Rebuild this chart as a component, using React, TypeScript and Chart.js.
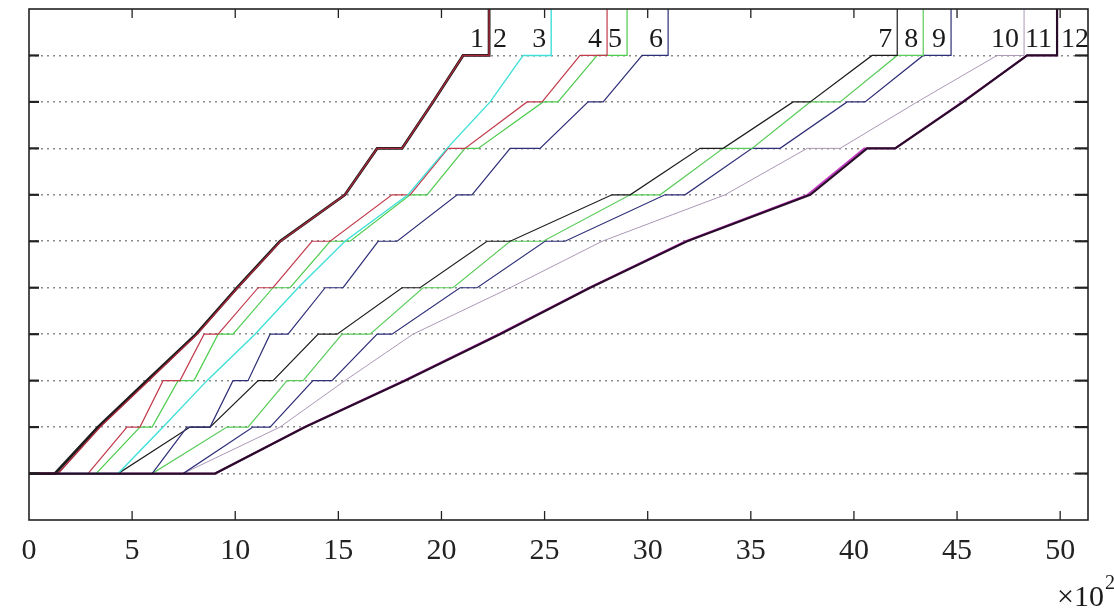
import { useEffect, useRef } from "react";
import { Chart, registerables } from "chart.js";

Chart.register(...registerables);

// Stations (y levels) and x ticks (time, ×10^2)
const stations = [0, 1, 2, 3, 4, 5, 6, 7, 8, 9];
const xTickValues = [0, 5, 10, 15, 20, 25, 30, 35, 40, 45, 50];
const trainLabels = ["1", "2", "3", "4", "5", "6", "7", "8", "9", "10", "11", "12"];
const xMin = 0;
const xMax = 51.35;
const yMin = -1;
const yMax = 10;

// arrival / departure time at each station (×10^2)
const arrive1 = [0, 3.35, 5.72, 8.1, 10.09, 12.17, 15.32, 16.88, 19.59, 21.05];
const depart1 = [1.26, 3.35, 5.72, 8.1, 10.09, 12.17, 15.32, 18.09, 19.59, 22.31];
const arrive2 = [0, 3.45, 5.8, 8.15, 10.12, 12.2, 15.32, 16.88, 19.59, 21.05];
const depart2 = [1.41, 3.45, 5.8, 8.15, 10.12, 12.2, 15.32, 18.09, 19.59, 22.31];
const arrive3 = [0, 6.5, 8.63, 10.96, 13.05, 15.32, 18.38, 20.27, 22.36, 23.96];
const depart3 = [4.32, 6.5, 8.63, 10.96, 13.05, 15.32, 18.38, 20.27, 22.36, 25.32];
const arrive4 = [0, 4.75, 6.5, 8.49, 11.11, 13.72, 17.6, 20.32, 24.15, 26.72];
const depart4 = [2.86, 5.38, 7.32, 9.17, 11.83, 14.6, 18.48, 21.14, 24.88, 28.03];
const arrive5 = [0, 5.38, 7.23, 9.17, 11.83, 14.6, 18.48, 21.14, 24.93, 27.55];
const depart5 = [3.25, 5.97, 8.0, 9.89, 12.66, 15.57, 19.3, 21.78, 25.65, 29.0];
const arrive6 = [0, 7.66, 9.89, 11.69, 14.36, 16.93, 20.76, 23.33, 27.11, 29.73];
const depart6 = [5.97, 8.78, 10.62, 12.56, 15.23, 17.85, 21.48, 24.78, 27.84, 30.99];
const arrive7 = [0, 7.81, 11.11, 14.02, 18.09, 22.21, 28.27, 32.54, 37.05, 40.88];
const depart7 = [4.32, 8.78, 11.83, 14.94, 18.96, 23.33, 29.15, 33.66, 37.88, 42.1];
const arrive8 = [0, 9.6, 12.51, 15.18, 19.11, 23.33, 29.15, 33.66, 37.88, 42.1];
const depart8 = [5.97, 10.62, 13.29, 16.54, 20.56, 24.93, 30.6, 35.06, 39.33, 43.36];
const arrive9 = [0, 10.86, 13.77, 16.88, 20.9, 25.02, 30.84, 35.06, 39.67, 43.36];
const depart9 = [7.47, 11.69, 14.69, 17.6, 21.73, 25.99, 31.81, 36.42, 40.54, 44.71];
const arrive10 = [0, 12.17, 15.32, 18.62, 23.33, 27.79, 33.75, 37.73, 43.07, 46.94];
const depart10 = [7.47, 12.17, 15.32, 18.62, 23.33, 27.79, 33.75, 39.33, 43.07, 48.25];
const arrive11 = [0, 13.35, 18.18, 22.78, 27.15, 31.82, 37.75, 40.5, 45.25, 48.4];
const depart11 = [9.02, 13.35, 18.18, 22.78, 27.15, 31.82, 37.75, 42.0, 45.25, 49.85];
const arrive12 = [0, 13.39, 18.23, 22.84, 27.21, 31.91, 37.88, 40.64, 45.3, 48.4];
const depart12 = [9.02, 13.39, 18.23, 22.84, 27.21, 31.91, 37.88, 42.0, 45.3, 49.85];

const arrivals = [arrive1, arrive2, arrive3, arrive4, arrive5, arrive6, arrive7, arrive8, arrive9, arrive10, arrive11, arrive12];
const departures = [depart1, depart2, depart3, depart4, depart5, depart6, depart7, depart8, depart9, depart10, depart11, depart12];

const lineColors = [
  "#1c1c1c", "#a8283a", "#3fe0d8", "#c23b4b", "#4ccc4c", "#2e2e78",
  "#1c1c1c", "#5acc5a", "#2e2e78", "#ab98b6", "#c639c6", "#2a0c2a",
];
const lineWidths = [2.8, 1.4, 1.4, 1.2, 1.2, 1.2, 1.2, 1.2, 1.2, 1.0, 1.8, 2.2];
const drawOrder = [0, -0.5, 2, 3, 4, 5, 6, 7, 8, 9, 10, -1];

function pathPoints(arr: number[], dep: number[]) {
  const pts: { x: number; y: number }[] = [];
  stations.forEach((s, i) => {
    pts.push({ x: arr[i], y: s });
    pts.push({ x: dep[i], y: s });
  });
  pts.push({ x: dep[dep.length - 1], y: yMax });
  return pts;
}

const SERIF = '"Liberation Serif", "DejaVu Serif", serif';

export default function App() {
  const ref = useRef<HTMLCanvasElement>(null);
  useEffect(() => {
    if (!ref.current) return;
    const overlay = {
      id: "overlay",
      afterDraw(chart: any) {
        const { ctx, chartArea: ca } = chart;
        const x = chart.scales.x;
        const y = chart.scales.y;
        const line = (x1: number, y1: number, x2: number, y2: number) => {
          ctx.beginPath();
          ctx.moveTo(x1, y1);
          ctx.lineTo(x2, y2);
          ctx.stroke();
        };
        ctx.save();
        ctx.strokeStyle = "#222";
        ctx.lineWidth = 1.6;
        ctx.strokeRect(ca.left, ca.top, ca.right - ca.left, ca.bottom - ca.top);
        ctx.lineWidth = 1.3;
        xTickValues.forEach((v) => {
          if (v === xMin) return;
          const px = x.getPixelForValue(v);
          line(px, ca.bottom, px, ca.bottom - 9);
          line(px, ca.top, px, ca.top + 9);
        });
        ctx.lineWidth = 2.2;
        stations.forEach((v) => {
          const py = y.getPixelForValue(v);
          line(ca.left, py, ca.left + 10, py);
          line(ca.right - 13, py, ca.right, py);
        });
        ctx.fillStyle = "#1a1a1a";
        ctx.font = `28px ${SERIF}`;
        ctx.textBaseline = "alphabetic";
        const yBase = y.getPixelForValue(stations[stations.length - 1]) - 8;
        departures.forEach((dep, i) => {
          const end = dep[dep.length - 1];
          const px = x.getPixelForValue(end);
          const prev = i > 0 ? departures[i - 1][departures[i - 1].length - 1] : null;
          const shared = prev === end;
          ctx.textAlign = shared ? "left" : "right";
          ctx.fillText(trainLabels[i], shared ? px + 4 : px - 5, yBase);
        });
        ctx.textAlign = "right";
        ctx.font = `30px ${SERIF}`;
        ctx.fillText("×10", ca.right + 16, 606);
        ctx.textAlign = "left";
        ctx.font = `20px ${SERIF}`;
        ctx.fillText("2", ca.right + 17, 589);
        ctx.restore();
      },
    };
    const chart = new Chart(ref.current, {
      type: "scatter",
      data: {
        datasets: arrivals.map((a, i) => ({
          label: trainLabels[i],
          data: pathPoints(a, departures[i]),
          showLine: true,
          borderColor: lineColors[i],
          backgroundColor: lineColors[i],
          borderWidth: lineWidths[i],
          pointRadius: 0,
          pointHoverRadius: 0,
          tension: 0,
          fill: false,
          order: drawOrder[i],
        })),
      },
      options: {
        animation: false,
        responsive: true,
        maintainAspectRatio: false,
        layout: { padding: { top: 9, right: 26, left: 0, bottom: 0 } },
        plugins: { legend: { display: false }, tooltip: { enabled: false } },
        scales: {
          x: {
            type: "linear",
            min: xMin,
            max: xMax,
            afterBuildTicks: (s: any) => {
              s.ticks = xTickValues.map((v) => ({ value: v }));
            },
            afterFit: (s: any) => {
              s.height = 89;
            },
            grid: { display: false, drawTicks: false },
            border: { display: false },
            ticks: {
              padding: 13,
              color: "#222",
              font: { family: SERIF, size: 30 },
              maxRotation: 0,
              autoSkip: false,
            },
          },
          y: {
            type: "linear",
            min: yMin,
            max: yMax,
            afterBuildTicks: (s: any) => {
              s.ticks = stations.map((v) => ({ value: v }));
            },
            afterFit: (s: any) => {
              s.width = 29;
            },
            grid: { color: "#8a8a8a", lineWidth: 1.6, drawTicks: false },
            border: { display: false, dash: [2, 4] },
            ticks: { display: false },
          },
        },
      } as any,
      plugins: [overlay],
    });
    return () => chart.destroy();
  }, []);
  return (
    <div style={{ position: "absolute", left: 0, top: 0, width: 1114, height: 609, background: "#fff" }}>
      <canvas ref={ref} />
    </div>
  );
}
